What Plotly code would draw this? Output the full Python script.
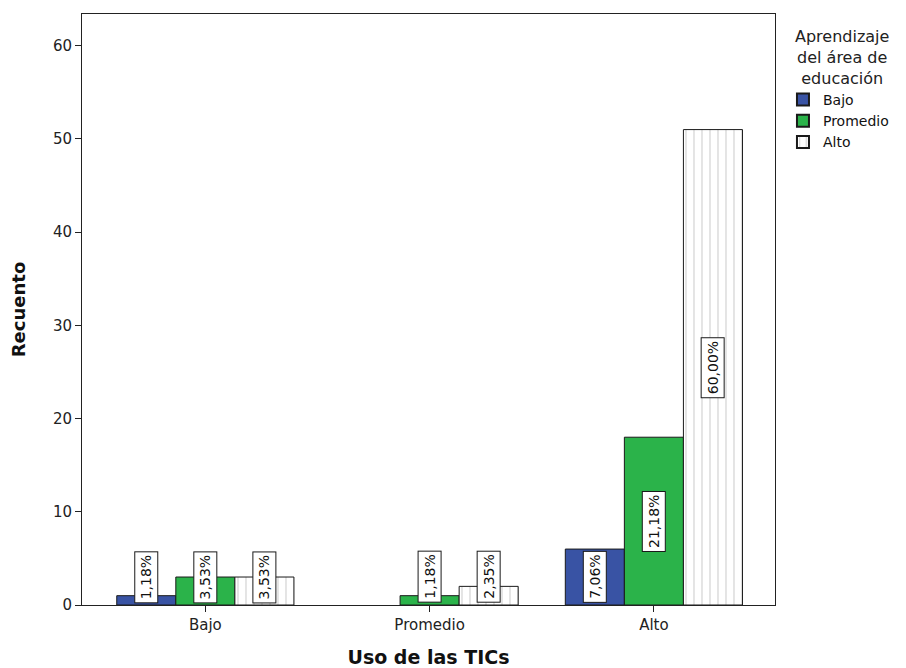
import plotly.graph_objects as go

categories = ["Bajo", "Promedio", "Alto"]
series_names = ["Bajo", "Promedio", "Alto"]
series_values = {
    "Bajo": [1, 0, 6],
    "Promedio": [3, 1, 18],
    "Alto": [3, 2, 51],
}
series_colors = {"Bajo": "#3953a4", "Promedio": "#2bb34a", "Alto": "#ffffff"}
y_ticks = [0, 10, 20, 30, 40, 50, 60]

total = sum(sum(v) for v in series_values.values())
font_family = "DejaVu Sans, Liberation Sans, Arial, sans-serif"

fig = go.Figure()
for name in series_names:
    vals = series_values[name]
    marker = dict(color=series_colors[name],
                  line=dict(color="#1a1a1a", width=[1 if v > 0 else 0 for v in vals]))
    if name == "Alto":
        marker["pattern"] = dict(shape="|", fgcolor="#a0a0a0", bgcolor="#ffffff",
                                 size=8, solidity=0.14)
    fig.add_trace(go.Bar(x=categories, y=vals, name=name,
                         marker=marker, offsetgroup=name))

# percentage labels (rotated boxes) positioned at bar centres
n = len(series_names)
group_width = 0.79
bar_w = group_width / n
for si, name in enumerate(series_names):
    for ci, v in enumerate(series_values[name]):
        if v == 0:
            continue
        pct = f"{100 * v / total:.2f}%".replace(".", ",")
        xpos = ci - group_width / 2 + bar_w * (si + 0.5)
        fig.add_annotation(x=xpos, y=max(v / 2, 3.0), xref="x", yref="y",
                           text=pct, textangle=-90, showarrow=False,
                           font=dict(family=font_family, size=14, color="#111"),
                           bgcolor="#ffffff", bordercolor="#1a1a1a",
                           borderwidth=1, borderpad=3)

# legend title (centred lines)
fig.add_annotation(x=1.097, y=0.982, xref="paper", yref="paper",
                   xanchor="center", yanchor="top", align="center",
                   text="Aprendizaje<br>del área de<br>educación", showarrow=False,
                   font=dict(family=font_family, size=16, color="#222"))

fig.update_layout(
    width=898, height=660,
    margin=dict(l=74, r=131, t=6, b=63, autoexpand=False),
    paper_bgcolor="#ffffff", plot_bgcolor="#ffffff",
    barmode="group", bargap=0.21, bargroupgap=0,
    font=dict(family=font_family, size=14, color="#222"),
    showlegend=True,
    legend=dict(
        x=1.0115, y=0.8816, xanchor="left", yanchor="top",
        font=dict(size=14, color="#111"),
        tracegroupgap=0, itemsizing="constant",
        bgcolor="rgba(0,0,0,0)",
    ),
    xaxis=dict(
        type="category", range=[-0.55, 2.54],
        showline=True, linecolor="#222", linewidth=1, mirror=True,
        ticks="outside", ticklen=6, tickcolor="#222",
        tickfont=dict(size=15, color="#222"),
        showgrid=False, zeroline=False,
        title=dict(text="<b>Uso de las TICs</b>", font=dict(size=19, color="#111"),
                   standoff=21),
    ),
    yaxis=dict(
        range=[0, 63.4], tickvals=y_ticks,
        showline=True, linecolor="#222", linewidth=1, mirror=True,
        ticks="outside", ticklen=6, tickcolor="#222",
        tickfont=dict(size=15, color="#222"),
        showgrid=False, zeroline=False,
        title=dict(text="<b>Recuento</b>", font=dict(size=18, color="#111"),
                   standoff=32),
    ),
)

fig.write_html("out.html")
